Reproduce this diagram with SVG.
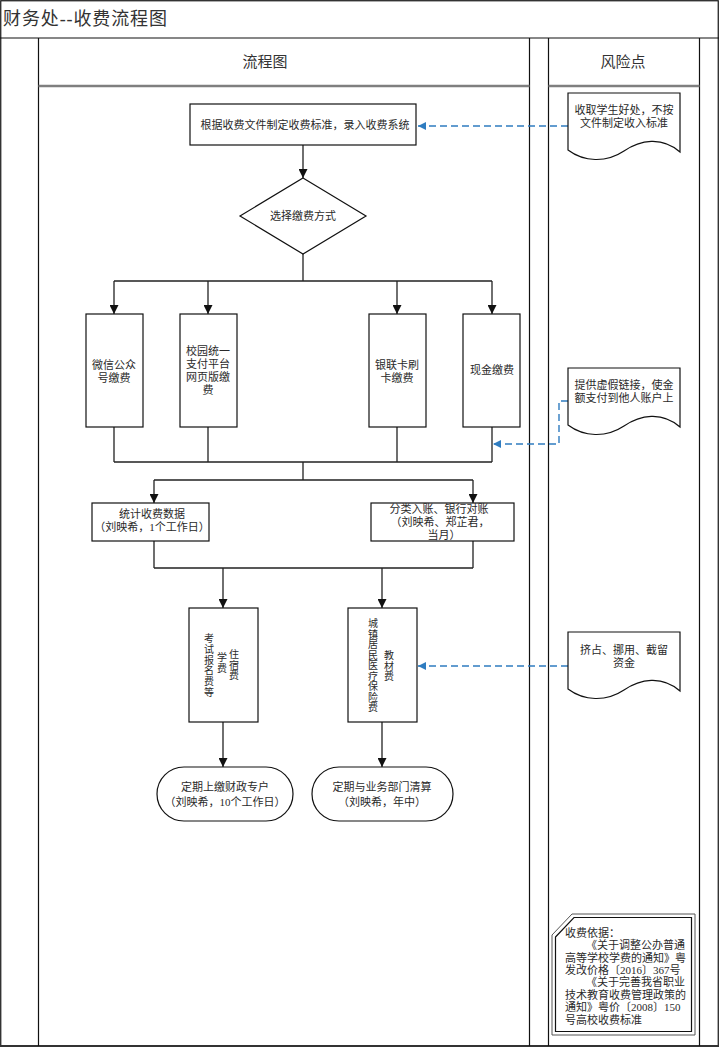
<svg xmlns="http://www.w3.org/2000/svg" width="719" height="1048" viewBox="0 0 719 1048">
<style>
text{font-family:"Liberation Serif","Noto Sans CJK SC",serif;fill:#2a2a2a;font-size:11px;dominant-baseline:central}
.c{text-anchor:middle}
.v{font-size:10px}
.box{fill:#fff;stroke:#111;stroke-width:1.2}
.ln{fill:none;stroke:#222;stroke-width:1.3}
.ar{fill:none;stroke:#222;stroke-width:1.3;marker-end:url(#ah)}
.rk{fill:none;stroke:#2f7cc0;stroke-width:1.4;stroke-dasharray:7 4;marker-end:url(#ahb)}
.lane{stroke:#111;stroke-width:1.2;fill:none}
</style>
<defs>
<marker id="ah" viewBox="0 0 10 10" refX="10" refY="5" markerWidth="9" markerHeight="9" markerUnits="userSpaceOnUse" orient="auto"><path d="M0,0 L10,5 L0,10 z" fill="#111"/></marker>
<marker id="ahb" viewBox="0 0 10 10" refX="10" refY="5" markerWidth="8" markerHeight="8" markerUnits="userSpaceOnUse" orient="auto"><path d="M0,0 L10,5 L0,10 z" fill="#2f7cc0"/></marker>
<path id="doc" d="M0,0 H112 V59 C94,43 72,47 56,58 C38,70 16,69 0,57 Z"/>
</defs>
<rect width="719" height="1048" fill="#fff"/>
<g id="frame">
<rect x="0.75" y="0.75" width="717.5" height="1045.5" class="lane"/>
<line x1="0" y1="1046" x2="719" y2="1046" stroke="#333" stroke-width="2.2"/>
<line x1="0" y1="38" x2="719" y2="38" class="lane"/>
<line x1="38.5" y1="38" x2="38.5" y2="1046" class="lane"/>
<line x1="529.5" y1="38" x2="529.5" y2="1046" class="lane"/>
<line x1="548.5" y1="38" x2="548.5" y2="1046" class="lane"/>
<line x1="699.5" y1="38" x2="699.5" y2="1046" class="lane"/>
<line x1="38.5" y1="86" x2="529.5" y2="86" stroke="#7f7f7f" stroke-width="2.5"/>
<line x1="548.5" y1="86" x2="699.5" y2="86" stroke="#7f7f7f" stroke-width="2.5"/>
<text x="3" y="19" style="font-size:18px;fill:#333" textLength="164" lengthAdjust="spacing">财务处--收费流程图</text>
<text x="265" y="62" class="c" style="font-size:15px;fill:#333">流程图</text>
<text x="623" y="62" class="c" style="font-size:15px;fill:#333">风险点</text>
</g>
<g id="connectors">
<path class="ar" d="M303,145 V178"/>
<path class="ln" d="M303,254 V281 M114,281 H492"/>
<path class="ar" d="M114,281 V314"/>
<path class="ar" d="M208,281 V314"/>
<path class="ar" d="M397,281 V314"/>
<path class="ar" d="M492,281 V314"/>
<path class="ln" d="M114,427 V462 M208,427 V462 M397,427 V462 M492,427 V462 M114,462 H492 M303,462 V480 M154,480 H473"/>
<path class="ar" d="M154,480 V503"/>
<path class="ar" d="M473,480 V503"/>
<path class="ln" d="M154,541 V568 M473,541 V568 M154,568 H473"/>
<path class="ar" d="M223,568 V608"/>
<path class="ar" d="M382,568 V608"/>
<path class="ar" d="M223,722 V767"/>
<path class="ar" d="M382,722 V767"/>
<path class="rk" d="M568,126 H418"/>
<path class="rk" d="M568,401 H559 V444 H493"/>
<path class="rk" d="M568,666 H418"/>
</g>
<g id="n_standard">
<rect class="box" x="190" y="104" width="226" height="41"/>
<text x="305" y="125" class="c">根据收费文件制定收费标准，录入收费系统</text>
</g>
<g id="n_choose">
<path class="box" d="M303,178 L366,216 L303,254 L240,216 Z"/>
<text x="303" y="216" class="c">选择缴费方式</text>
</g>
<g id="n_wechat">
<rect class="box" x="86" y="314" width="57" height="113"/>
<text x="114" y="365" class="c">微信公众</text>
<text x="114" y="378" class="c">号缴费</text>
</g>
<g id="n_campus">
<rect class="box" x="180" y="314" width="57" height="113"/>
<text x="208" y="351" class="c">校园统一</text>
<text x="208" y="364" class="c">支付平台</text>
<text x="208" y="377" class="c">网页版缴</text>
<text x="208" y="390" class="c">费</text>
</g>
<g id="n_unionpay">
<rect class="box" x="369" y="314" width="57" height="113"/>
<text x="397" y="365" class="c">银联卡刷</text>
<text x="397" y="378" class="c">卡缴费</text>
</g>
<g id="n_cash">
<rect class="box" x="463" y="314" width="57" height="113"/>
<text x="492" y="370" class="c">现金缴费</text>
</g>
<g id="n_stats">
<rect class="box" x="92" y="503" width="117" height="38"/>
<text x="152" y="514" class="c">统计收费数据</text>
<text x="152" y="527" class="c">（刘映希，1个工作日）</text>
</g>
<g id="n_classify">
<rect class="box" x="371" y="503" width="143" height="38"/>
<text x="439" y="509" class="c">分类入账、银行对账</text>
<text x="440" y="522" class="c">（刘映希、郑芷君，</text>
<text x="444" y="535" class="c">当月）</text>
</g>
<g id="n_fees1">
<rect class="box" x="189" y="608" width="69" height="114"/>
<text x="234" y="654" class="c v"><tspan x="234">住</tspan><tspan x="234" dy="10.5">宿</tspan><tspan x="234" dy="10.5">费</tspan></text>
<text x="222" y="657" class="c v"><tspan x="222">学</tspan><tspan x="222" dy="10.5">费</tspan></text>
<text x="209" y="638" class="c v"><tspan x="209">考</tspan><tspan x="209" dy="10.8">试</tspan><tspan x="209" dy="10.8">报</tspan><tspan x="209" dy="10.8">名</tspan><tspan x="209" dy="10.8">费</tspan><tspan x="209" dy="10.8">等</tspan></text>
</g>
<g id="n_fees2">
<rect class="box" x="348" y="608" width="69" height="114"/>
<text x="373" y="623" class="c v"><tspan x="373">城</tspan><tspan x="373" dy="10.5">镇</tspan><tspan x="373" dy="10.5">居</tspan><tspan x="373" dy="10.5">民</tspan><tspan x="373" dy="10.5">医</tspan><tspan x="373" dy="10.5">疗</tspan><tspan x="373" dy="10.5">保</tspan><tspan x="373" dy="10.5">险</tspan><tspan x="373" dy="10.5">费</tspan></text>
<text x="389" y="655" class="c v"><tspan x="389">教</tspan><tspan x="389" dy="10.5">材</tspan><tspan x="389" dy="10.5">费</tspan></text>
</g>
<g id="n_treasury">
<rect class="box" x="157" y="767" width="136" height="54" rx="27" ry="27"/>
<text x="225" y="787" class="c">定期上缴财政专户</text>
<text x="225" y="802" class="c">（刘映希，10个工作日）</text>
</g>
<g id="n_settle">
<rect class="box" x="312" y="767" width="141" height="54" rx="27" ry="27"/>
<text x="382" y="787" class="c">定期与业务部门清算</text>
<text x="382" y="802" class="c">（刘映希，年中）</text>
</g>
<g id="r_bribe">
<use href="#doc" x="568" y="93" class="box"/>
<text x="624" y="110" class="c">收取学生好处，不按</text>
<text x="624" y="123" class="c">文件制定收入标准</text>
</g>
<g id="r_fakelink">
<use href="#doc" x="568" y="368" class="box"/>
<text x="624" y="385" class="c">提供虚假链接，使金</text>
<text x="624" y="398" class="c">额支付到他人账户上</text>
</g>
<g id="r_misuse">
<use href="#doc" x="568" y="632" class="box"/>
<text x="624" y="650" class="c">挤占、挪用、截留</text>
<text x="624" y="663" class="c">资金</text>
</g>
<g id="n_basis">
<path d="M552,935 L572,914 H695 V1035 H552 Z" fill="#fff" stroke="#555" stroke-width="1"/>
<path d="M555.5,937 L574,917.5 H691.5 V1031.5 H555.5 Z" fill="none" stroke="#111" stroke-width="1.2"/>
<g style="font-size:10.5px">
<text x="565" y="933">收费依据：</text>
<text x="586" y="945">《关于调整公办普通</text>
<text x="565" y="958">高等学校学费的通知》粤</text>
<text x="565" y="970">发改价格〔2016〕367号</text>
<text x="586" y="982">《关于完善我省职业</text>
<text x="565" y="995">技术教育收费管理政策的</text>
<text x="565" y="1007">通知》粤价〔2008〕150</text>
<text x="565" y="1020">号高校收费标准</text>
</g>
</g>
</svg>
